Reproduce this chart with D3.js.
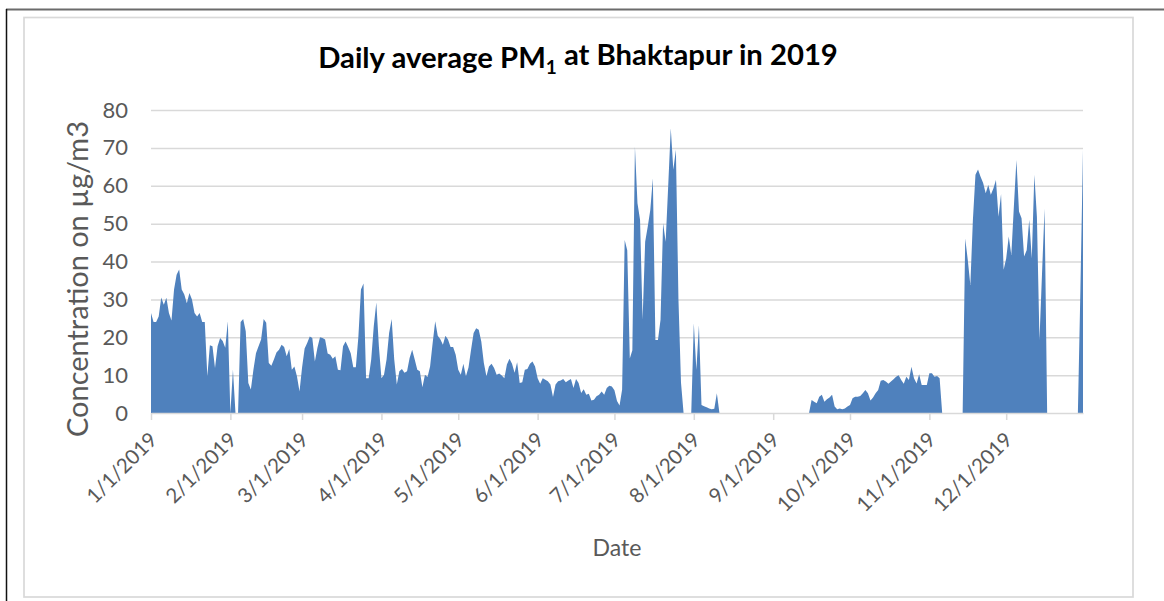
<!DOCTYPE html>
<html><head><meta charset="utf-8">
<script src="https://cdn.jsdelivr.net/npm/d3@7"></script>
<style>html,body{margin:0;padding:0;background:#fff;} svg{display:block;}</style>
</head><body>
<svg id="chart" width="1164" height="601"></svg>
<script>
// Daily average PM1 (µg/m3); blank days drawn at 0
const jan = [26.4,24,24,25.5,30.5,28.6,30.4,26.4,24.4,32.6,36.5,37.9,32.6,31.3,29,31.7,30,26.4,25.5,26.4,24,24,9.7,17.9,17.6,11.9,17.6,19.8,19,17.2,24.2];
const feb = [0,11.4,0,0,24,24.8,21.6,7.9,6.2,11.4,15.8,17.6,19.4,24.8,23.8,13.2,12.5,14.1,16,16.7,18,17.4,15,16.9,11.4,12.3,9.7,5.7];
const mar = [12,17,18.5,20.2,19.8,13.6,17.2,20,19.8,19.4,15.7,15.4,14.3,15,11.4,11.3,17.6,18.9,17.4,15.8,12.1,12.1,20.2,32.6,34.2,9.2,9.2,14.1,22.9,29.2,17.6];
const apr = [9.2,10.1,14.1,21.1,24.8,14.1,7.5,11,11.6,10.6,11,14.5,16.7,14.1,11.4,11,6.8,10.1,9.5,12.3,18.5,24.2,20.4,19.5,18,20.4,19.4,17.4,17.4,15.4];
const may = [11.4,10.1,13,9.7,12,16.7,21.1,22.4,22,18.9,13.2,9.7,12.3,13,11.9,10.1,10.4,9.9,9.2,12.8,14.3,13,10.6,13.4,7.9,8.1,11.4,11.6,13,13.6,12.3];
const jun = [9.2,7.7,9.2,8.8,8.4,7.5,4.2,7.5,8.4,8.6,9,8.1,8.6,9,6.6,9,7.9,5.3,6.3,4.8,5.1,3.3,3.5,4.4,4.8,5.7,4.8,6.6,7.2,7];
const jul = [6,3.2,2,6.2,45.7,43,14.4,16.6,70.3,55.4,51,24.6,45.2,49.2,53.6,62,19.3,19.3,24.6,50.1,45.2,60,75.2,64.2,69.5,30,8,0,0,0,0];
const aug = [23.7,11.4,23.2,2.1,1.8,1.5,1.2,1,1.1,5.2,0,0,0,0,0,0,0,0,0,0,0,0,0,0,0,0,0,0,0,0,0];
const sep = [0,0,0,0,0,0,0,0,0,0,0,0,0,0,0,3.4,3,2.6,4.3,4.8,3,3.6,4.1,4.8,1.7,1,1.2,1,1.2,1.7];
const oct = [2.1,3.9,4.3,4.3,4.5,5.2,6.1,5.2,3.3,4.1,5.2,6.1,8.5,8.7,8.3,7.7,8.3,8.9,9.6,10,8.7,7.7,9.6,8.7,12.2,9.2,7.8,10.2,7.4,7.4,7.4];
const nov = [10.5,10.5,9.6,9.8,9.2,0,0,0,0,0,0,0,0,0,46.1,40.4,33.8,51,62.9,64.3,62.4,60.7,58,60.2,57.6,59.3,61.5,51.8,57.8,37.8];
const dec = [40.8,46.6,41.7,54.5,66.8,53.2,51.4,41.3,43,51,40.8,62.9,51.8,19.3,36.9,54,0,0,0,0,0,0,0,0,0,0,0,0,0,33,69.5];

const yTicks = [0,10,20,30,40,50,60,70,80];
const titleMain = "Daily average PM";
const titleSub = "1";
const titleRest = " at Bhaktapur in 2019";
const yTitle = "Concentration on µg/m3";
const xTitle = "Date";

const values = [jan,feb,mar,apr,may,jun,jul,aug,sep,oct,nov,dec].flat();
const start = new Date(Date.UTC(2019,0,1));
const data = values.map((v,i)=>({date:d3.utcDay.offset(start,i), v}));

const svg = d3.select("#chart");
const FONT = "Lato, 'Open Sans', sans-serif";
const L=151, R=1083, T=110, B=413;

// frame lines
svg.append("line").attr("x1",6).attr("x2",1164).attr("y1",9.5).attr("y2",9.5).attr("stroke","#6b6b6b").attr("stroke-width",2);
svg.append("line").attr("x1",6.5).attr("x2",6.5).attr("y1",9).attr("y2",601).attr("stroke","#111").attr("stroke-width",1.5);
svg.append("rect").attr("x",24).attr("y",17.5).attr("width",1109).attr("height",579.5)
  .attr("fill","none").attr("stroke","#d9d9d9").attr("stroke-width",1.7);

const x = d3.scaleUtc().domain([start, d3.utcDay.offset(start, values.length-1)]).range([L,R]);
const y = d3.scaleLinear().domain([0,80]).range([B,T]);

// gridlines
svg.append("g").attr("transform",`translate(${L},0)`)
  .call(d3.axisLeft(y).tickValues(yTicks.slice(1)).tickSize(-(R-L)).tickFormat(""))
  .call(g=>g.select(".domain").remove())
  .call(g=>g.selectAll("line").attr("stroke","#d9d9d9").attr("stroke-width",1.5));

// area
const area = d3.area().x(d=>x(d.date)).y0(y(0)).y1(d=>y(d.v));
svg.append("path").datum(data).attr("d",area).attr("fill","#4f81bd");

// y axis labels
svg.append("g").attr("transform",`translate(${L},0)`)
  .call(d3.axisLeft(y).tickValues(yTicks).tickSize(0).tickPadding(23))
  .call(g=>g.select(".domain").remove())
  .call(g=>g.selectAll("text").attr("font-family",FONT).attr("font-size",22).attr("fill","#595959"));

// x axis
const months = d3.utcMonth.range(start, d3.utcDay.offset(start, values.length));
const fmt = d3.utcFormat("%-m/%-d/%Y");
svg.append("g").attr("transform",`translate(0,${B})`)
  .call(d3.axisBottom(x).tickValues(months).tickFormat(fmt).tickSize(7).tickSizeOuter(0))
  .call(g=>g.select(".domain").attr("stroke","#d9d9d9").attr("stroke-width",1.5))
  .call(g=>g.selectAll(".tick line").attr("stroke","#d9d9d9").attr("stroke-width",1.5))
  .call(g=>g.selectAll("text").attr("font-family",FONT).attr("font-size",20.5).attr("fill","#595959")
     .attr("x",0).attr("y",0).attr("dy",0).attr("text-anchor","end")
     .attr("transform","translate(7,28) rotate(-45)"));

function fit(t, target){
  const n=t.node(); const len=n.getComputedTextLength();
  const fs=parseFloat(t.attr("font-size")); t.attr("font-size", fs*target/len);
}

// title
const tt = svg.append("text").attr("x",578).attr("y",68).attr("text-anchor","middle")
  .attr("font-family",FONT).attr("font-weight","bold").attr("font-size",26).attr("fill","#000");
tt.append("tspan").text(titleMain);
tt.append("tspan").attr("dy","0.3em").style("font-size","0.65em").text(titleSub);
tt.append("tspan").attr("dy","-0.3em").text(titleRest);
fit(tt,520);

// y title
const yt = svg.append("text").attr("transform","translate(88,279) rotate(-90)").attr("text-anchor","middle")
  .attr("font-family",FONT).attr("font-size",28).attr("fill","#595959").text(yTitle);
fit(yt,316);

// x title
const xt = svg.append("text").attr("x",617).attr("y",556).attr("text-anchor","middle")
  .attr("font-family",FONT).attr("font-size",22).attr("fill","#595959").text(xTitle);
fit(xt,49);
</script>
</body></html>
